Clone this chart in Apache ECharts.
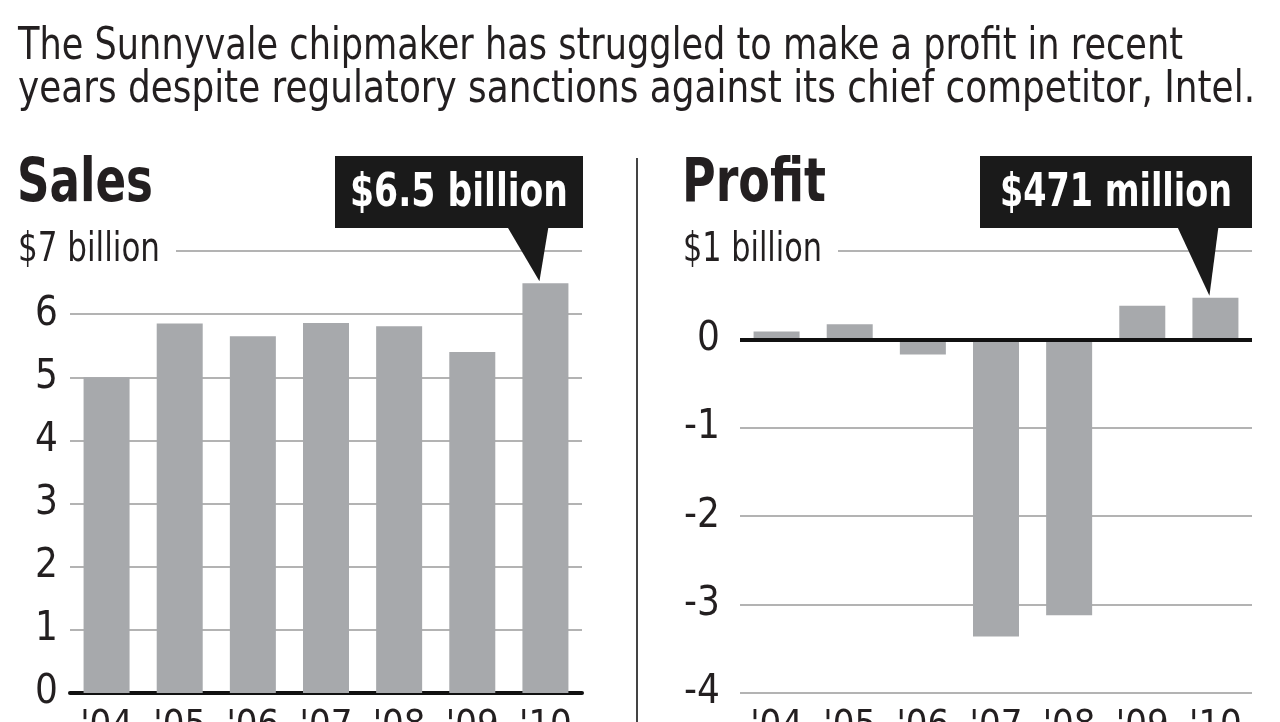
<!DOCTYPE html>
<html lang="en">

<head>
    <meta charset="UTF-8">
    <title>Sales and profit</title>
    <script src="https://cdn.jsdelivr.net/npm/echarts@6/dist/echarts.min.js"></script>
    <style>
        html, body {
            margin: 0;
            padding: 0;
            background-color: white;
        }

        #main {
            width: 1280px;
            height: 722px;
        }
    </style>
</head>

<body>
    <div id="main"></div>

    <script>
        // data
        var years = ["'04", "'05", "'06", "'07", "'08", "'09", "'10"];
        var sales = [5.0, 5.85, 5.65, 5.86, 5.81, 5.40, 6.49];     // $ billion
        var profit = [0.09, 0.17, -0.17, -3.36, -3.12, 0.38, 0.471]; // $ billion
        var salesTicks = [0, 7, 1];     // min, max, step
        var profitTicks = [-4, 1, 1];
        var salesCallout = '$6.5 billion';
        var profitCallout = '$471 million';
        var subtitleLines = [
            'The Sunnyvale chipmaker has struggled to make a profit in recent',
            'years despite regulatory sanctions against its chief competitor, Intel.'
        ];

        var font = '"Liberation Sans Narrow", "DejaVu Sans Condensed", sans-serif';
        var ink = '#231f20';
        var barGray = '#a7a9ac';
        var gridGray = '#b3b3b3';

        var myChart = echarts.init(document.getElementById('main'));

        // the original type is condensed; squeeze text to the width it had
        var measureCtx = document.createElement('canvas').getContext('2d');
        function squeeze(text, cssFont, targetWidth) {
            measureCtx.font = cssFont;
            var w = measureCtx.measureText(text).width;
            return Math.min(1, targetWidth / w);
        }

        function yAxisFor(ticks, idx, margin) {
            return {
                type: 'value',
                gridIndex: idx,
                min: ticks[0],
                max: ticks[1],
                interval: ticks[2],
                axisLine: { show: false },
                axisTick: { show: false },
                axisLabel: {
                    margin: margin,
                    color: ink,
                    fontFamily: font,
                    fontSize: 40,
                    formatter: function (v) {
                        return v === ticks[1] ? '' : String(v);
                    }
                },
                splitLine: { lineStyle: { color: gridGray, width: 2 } }
            };
        }

        function xAxisFor(idx, showLine) {
            return {
                type: 'category',
                gridIndex: idx,
                data: years,
                axisLine: { show: showLine, onZero: false, lineStyle: { color: '#111', width: 4 } },
                axisTick: { show: false },
                axisLabel: {
                    interval: 0,
                    margin: 14,
                    color: ink,
                    fontFamily: font,
                    fontSize: 38
                }
            };
        }

        myChart.setOption({
            animation: false,
            grid: [
                { left: 70, width: 512, top: 251, height: 442, outerBoundsMode: 'none' },
                { left: 740, width: 512, top: 251, height: 442, outerBoundsMode: 'none' }
            ],
            xAxis: [xAxisFor(0, true), xAxisFor(1, false)],
            yAxis: [yAxisFor(salesTicks, 0, 12), yAxisFor(profitTicks, 1, 20)],
            series: [
                {
                    name: 'Sales',
                    type: 'bar',
                    xAxisIndex: 0,
                    yAxisIndex: 0,
                    data: sales,
                    barWidth: 46,
                    itemStyle: { color: barGray }
                },
                {
                    name: 'Profit',
                    type: 'bar',
                    xAxisIndex: 1,
                    yAxisIndex: 1,
                    data: profit,
                    barWidth: 46,
                    itemStyle: { color: barGray },
                    markLine: {
                        silent: true,
                        symbol: 'none',
                        label: { show: false },
                        lineStyle: { color: '#111', width: 4, type: 'solid' },
                        data: [{ yAxis: 0 }]
                    }
                }
            ]
        });

        function label(text, x, y, size, weight, targetWidth, color, align) {
            var cssFont = weight + ' ' + size + 'px ' + font;
            return {
                type: 'text',
                z: 101,
                x: x,
                y: y,
                scaleX: squeeze(text, cssFont, targetWidth),
                style: {
                    text: text,
                    fill: color || ink,
                    font: cssFont,
                    align: align || 'left',
                    verticalAlign: 'middle'
                }
            };
        }

        // callouts, placed from the chart's own scales
        function callout(seriesIndex, value, text, boxLeft, boxRight, textWidth) {
            var last = years.length - 1;
            var tip = myChart.convertToPixel({ seriesIndex: seriesIndex }, [last, value]);
            var boxTop = 156, boxBottom = 228;
            var tx = tip[0] - 6, ty = tip[1] - 2;
            return [
                {
                    type: 'rect',
                    z: 100,
                    shape: { x: boxLeft, y: boxTop, width: boxRight - boxLeft, height: boxBottom - boxTop },
                    style: { fill: '#1a1a1a' }
                },
                {
                    type: 'polygon',
                    z: 100,
                    shape: { points: [[tx - 32, boxBottom - 1], [tx + 9, boxBottom - 1], [tx, ty]] },
                    style: { fill: '#1a1a1a' }
                },
                label(text, (boxLeft + boxRight) / 2, (boxTop + boxBottom) / 2 + 2, 46, 'bold', textWidth, '#fff', 'center')
            ];
        }

        // the top tick carries the unit, written at the left with the gridline cut short
        function caption(gridIndex, value, text, textLeft, textWidth, lineStart) {
            var y = myChart.convertToPixel({ yAxisIndex: gridIndex }, value);
            var gridLeft = myChart.convertToPixel({ xAxisIndex: gridIndex }, 0) - 40;
            return [
                {
                    type: 'rect',
                    z: 100,
                    shape: { x: gridLeft - 10, y: y - 3, width: lineStart - gridLeft + 10, height: 6 },
                    style: { fill: '#fff' }
                },
                label(text, textLeft, y, 40, 'normal', textWidth)
            ];
        }

        var graphics = [].concat(
            [
                label(subtitleLines[0], 18, 48, 44, 'normal', 1165),
                label(subtitleLines[1], 18, 91, 44, 'normal', 1237),
                label('Sales', 17, 185, 60, 'bold', 136),
                label('Profit', 682, 185, 60, 'bold', 144)
            ],
            caption(0, salesTicks[1], '$7 billion', 18, 142, 176),
            caption(1, profitTicks[1], '$1 billion', 683, 139, 838),
            callout(0, sales[sales.length - 1], salesCallout, 335, 583, 218),
            callout(1, profit[profit.length - 1], profitCallout, 980, 1252, 232),
            [{
                type: 'rect',
                z: 100,
                shape: { x: 636, y: 158, width: 2, height: 580 },
                style: { fill: '#444' }
            }]
        );

        myChart.setOption({ graphic: graphics });
    </script>
</body>

</html>
